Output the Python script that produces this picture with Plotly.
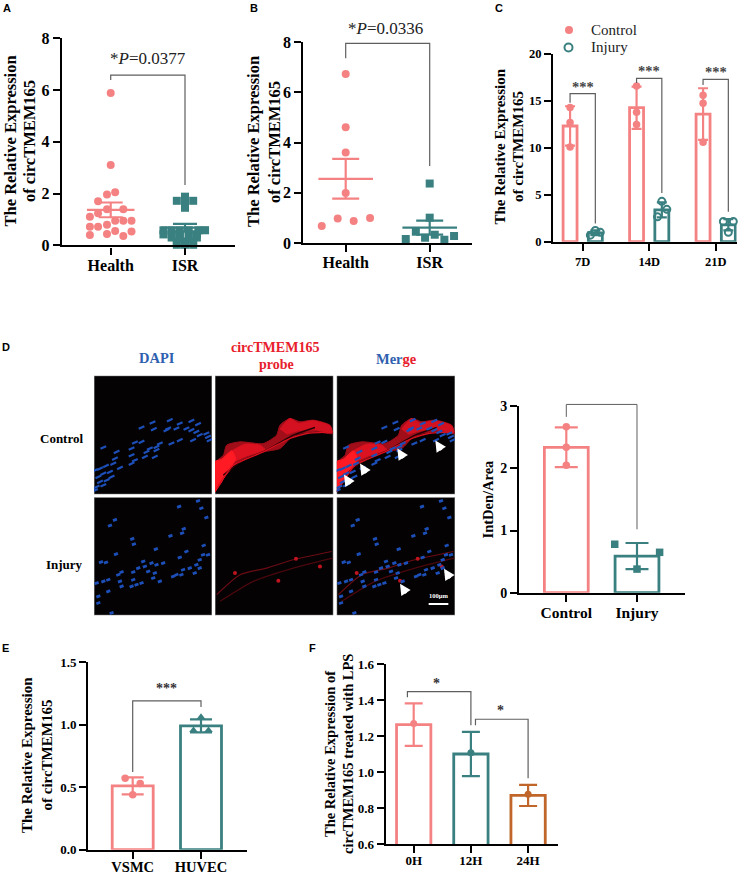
import plotly.graph_objects as go

W, H = 747, 874
PINK, TEAL, ORANGE = "#F58283", "#3A8080", "#C0662A"
BR = "#5f5f5f"
SERIF = "Liberation Serif"
SANS = "Liberation Sans"

# ---------- data ----------
A_categories = ["Health", "ISR"]
A_health = [5.89, 3.1, 2.05, 1.96, 1.7, 1.39, 1.39, 1.24, 1.1, .95, .95, .95, .79, .72, .72, .4, .44, .55, .36, .53]
A_health_dx = [0, 0, .06, -.05, -.17, -.05, .17, -.17, -.28, .06, .17, .28, -.05, -.28, -.17, -.28, -.05, .06, .17, .28]
A_isr = [1.88, 1.72, 1.72, 1.7, 1.45, .58, .58, .58, .58, .58, .58, .42, .42, .42, .42, .42, .3, .3, .3, .3, .15, .15, .15, .02, .02, .02, -.05]
A_isr_dx = [0, -.11, .11, 0, 0, -.29, -.18, -.07, .05, .18, .27, -.29, -.18, -.07, .05, .16, -.18, -.07, .05, .16, -.11, 0, .11, -.11, 0, .11, 0]
A_mean, A_sem = [1.37, .68], [.285, .15]

B_categories = ["Health", "ISR"]
B_health = [6.74, 4.61, 3.61, 1.99, .98, .88, 1.0, .68]
B_health_dx = [0, 0, 0, 0, -.095, .095, .29, -.285]
B_isr = [2.37, 1.01, .45, .21, .33, .16, .13, .28]
B_isr_dx = [0, 0, -.165, -.055, .06, -.285, .175, .29]
B_mean, B_sem = [2.56, .61], [.79, .28]

C_categories = ["7D", "14D", "21D"]
C_control = [12.33, 14.28, 13.6]
C_control_sd = [2.1, 2.25, 2.75]
C_control_pts = [[14.3, 12.7, 10.1], [16.6, 13.8, 12.5], [15.6, 14.75, 10.6]]
C_injury = [.95, 3.4, 1.8]
C_injury_sd = [.25, .8, .6]
C_injury_pts = [[.7, 1.2, 1.0], [4.3, 3.45, 2.65], [2.15, 2.15, 1.0]]
C_injury_dx = [[-.075, 0, .075], [0, .075, -.065], [-.075, .075, 0]]

D_categories = ["Control", "Injury"]
D_means = [2.34, .59]
D_sd = [.32, .21]
D_control_pts = [2.67, 2.34, 2.05]
D_injury_pts = [.78, .65, .38]
D_injury_dx = [-.315, .32, 0]

E_categories = ["VSMC", "HUVEC"]
E_means = [.51, .99]
E_sd = [.068, .052]
E_vsmc_pts = [.57, .53, .44]
E_vsmc_dx = [-.11, .11, 0]
E_huvec_pts = [1.06, .955, .955]
E_huvec_dx = [0, -.11, .11]

F_categories = ["0H", "12H", "24H"]
F_means = [1.263, 1.10, .87]
F_sd = [.118, .123, .059]
F_dots = [1.27, 1.107, .876]

# micrograph sketches (positions inside a 355x355 panel)
DAPI_control = [(176,140),(143,155),(228,133),(223,158),(180,160),(258,143),(248,158),(293,135),(313,145),(218,163),(278,158),(293,163),(308,168),(338,173),(318,178),(343,183),(258,193),(298,193),(348,193),(233,203),(198,203),(188,213),(168,218),(158,228),(188,223),(153,243),(183,243),(143,198),(123,200),(113,218),(113,238),(123,253),(113,263),(68,228),(63,248),(58,263),(78,276),(28,215),(36,270),(18,278),(3,283),(28,293),(48,288),(13,303),(53,303),(38,313),(18,318),(8,333),(3,343),(28,328)]
DAPI_injury = [(313,11),(256,28),(323,33),(338,61),(63,68),(48,85),(270,95),(265,108),(230,116),(115,125),(120,141),(330,145),(186,156),(66,171),(21,195),(36,196),(278,163),(258,181),(328,173),(343,173),(318,188),(308,203),(288,213),(268,218),(248,233),(318,213),(208,198),(188,203),(173,198),(148,193),(153,208),(133,213),(118,225),(183,228),(163,223),(178,243),(198,253),(83,225),(73,233),(78,253),(83,268),(43,248),(28,253),(8,258),(43,283),(118,248),(113,268),(128,263),(143,258),(13,298),(13,318),(53,348),(238,238),(263,233),(303,228)]
PROBE_ctrl_outer = [(0,258),(25,238),(35,208),(75,198),(145,203),(185,178),(195,148),(225,128),(255,138),(295,133),(345,148),(353,173),(305,168),(255,173),(225,188),(195,218),(145,228),(95,248),(55,273),(25,308),(5,338),(0,348)]
PROBE_ctrl_core = [(0,256),(20,250),(50,225),(62,250),(38,285),(20,318),(0,348)]
PROBE_ctrl_mid = [(45,228),(90,205),(135,208),(150,222),(95,240),(55,258)]
PROBE_ctrl_mid2 = [(195,160),(225,128),(250,142),(295,135),(345,150),(350,170),(300,162),(250,165),(215,175)]
PROBE_ctrl_edge = [(5,338),(55,268),(145,228),(225,188),(275,173),(353,168)]
PROBE_ctrl_dark = [(25,298),(75,258),(155,223),(235,178),(300,155)]
PROBE_inj_line1 = [(5,293),(75,233),(155,213),(235,188),(350,163)]
PROBE_inj_line2 = [(15,313),(115,253),(235,213),(353,183)]
PROBE_inj_spots = [(60,228),(243,185),(190,251),(315,208)]
ARROWS_ctrl = [(182,218),(70,263),(22,296),(296,194)]
ARROWS_inj = [(190,260),(322,215)]

# ---------- helpers ----------
fig = go.Figure()
layout = {"shapes": []}
ann = []
n = [0]


def X(p):
    return p / W


def Y(p):
    return 1 - p / H


def new_axes(x0, x1, ytop, ybot, yrange, tickfont=None, cats=None, p0=None, unit=None, xtickfont=None, dtick=None, fmt=None, standoff=0):
    n[0] += 1
    k = n[0]
    xk, yk = f"xaxis{k}", f"yaxis{k}"
    if cats is None:
        layout[xk] = dict(domain=[X(x0), X(x1)], range=[0, 355], anchor=f"y{k}", visible=False, fixedrange=True)
        layout[yk] = dict(domain=[Y(ybot), Y(ytop)], range=[355, 0], anchor=f"x{k}", visible=False, fixedrange=True)
        return f"x{k}", f"y{k}"
    rng = [-(p0 - x0) / unit, (x1 - p0) / unit]
    common = dict(showline=True, linecolor="black", linewidth=2.4, ticks="outside", tickcolor="black",
                  tickwidth=2, ticklen=7, showgrid=False, zeroline=False, fixedrange=True)
    layout[xk] = dict(domain=[X(x0), X(x1)], range=rng, anchor=f"y{k}", tickmode="array",
                      tickvals=list(range(len(cats))), ticktext=cats, ticklabelstandoff=standoff,
                      tickfont=dict(family=SERIF, size=xtickfont or tickfont, color="black", weight="bold"), **common)
    layout[yk] = dict(domain=[Y(ybot), Y(ytop)], range=yrange, anchor=f"x{k}", dtick=dtick, tickformat=fmt,
                      tickfont=dict(family=SERIF, size=tickfont, color="black", weight="bold"), **common)
    return f"x{k}", f"y{k}"


def to_paper(ax, xv, yv):
    xa = layout["xaxis" + ax[0][1:]]
    ya = layout["yaxis" + ax[1][1:]]
    fx = (xv - xa["range"][0]) / (xa["range"][1] - xa["range"][0])
    fy = (yv - ya["range"][0]) / (ya["range"][1] - ya["range"][0])
    return (xa["domain"][0] + fx * (xa["domain"][1] - xa["domain"][0]),
            ya["domain"][0] + fy * (ya["domain"][1] - ya["domain"][0]))


def text(x, y, s, size=13, bold=True, color="black", angle=0, xa="center", family=SERIF, xref="paper", yref="paper"):
    if xref == "paper":
        x, y = X(x), Y(y)
    ann.append(dict(x=x, y=y, xref=xref, yref=yref, text=s, showarrow=False, xanchor=xa, yanchor="middle",
                    textangle=angle, font=dict(family=family, size=size, color=color, weight="bold" if bold else "normal")))


def bracket(ax, xs, ys, width=1.2):
    pts = [to_paper(ax, px, py) for px, py in zip(xs, ys)]
    path = "M " + " L ".join(f"{px:.5f} {py:.5f}" for px, py in pts)
    layout["shapes"].append(dict(type="path", path=path, xref="paper", yref="paper", line=dict(color=BR, width=width), layer="above"))


def points(ax, xs, ys, color, symbol="circle", size=8, name="", lw=0):
    fig.add_trace(go.Scatter(x=xs, y=ys, mode="markers", xaxis=ax[0], yaxis=ax[1], cliponaxis=False,
                             marker=dict(color=color, symbol=symbol, size=size, line=dict(color=color, width=lw)),
                             showlegend=False, name=name))


def err(ax, xs, ys, es, color, cap, thick=2.2):
    fig.add_trace(go.Scatter(x=xs, y=ys, mode="none", xaxis=ax[0], yaxis=ax[1], showlegend=False, cliponaxis=False,
                             error_y=dict(type="data", array=es, color=color, thickness=thick, width=cap)))


def bars(ax, xs, ys, color, width, lw=2.8):
    fig.add_trace(go.Bar(x=xs, y=ys, width=width, xaxis=ax[0], yaxis=ax[1], showlegend=False, cliponaxis=False,
                         marker=dict(color="white", line=dict(color=color, width=lw))))


def mean_line(ax, c, v, half, color, thick=2.2):
    fig.add_trace(go.Scatter(x=[c - half, c + half], y=[v, v], mode="lines", xaxis=ax[0], yaxis=ax[1], showlegend=False,
                             line=dict(color=color, width=thick)))


def add_offset(c, dx):
    return [c + d for d in dx]


def y_title(x1, x2, yc, l1, l2, size):
    text(x1, yc, l1, size=size, angle=-90)
    if l2:
        text(x2, yc, l2, size=size, angle=-90)


TITLE1 = "The Relative Expression"
TITLE2 = "of circTMEM165"

# ---------- A ----------
a = new_axes(62, 235, 38.3, 245.3, [0, 8], 16, cats=A_categories, p0=110.7, unit=74.3, dtick=2, standoff=-3)
bracket(a, [0, 0, 1, 1], [6.39, 6.58, 6.58, 2.33])
points(a, add_offset(0, A_health_dx), A_health, PINK, size=8)
points(a, add_offset(1, A_isr_dx), A_isr, TEAL, "square", 8)
for i, col in enumerate([PINK, TEAL]):
    mean_line(a, i, A_mean[i], .32, col)
    err(a, [i], [A_mean[i]], [A_sem[i]], col, 12)
text(148, 59, "*<i>P</i>=0.0377", 17, False, "#222")
y_title(10.5, 30, 141, TITLE1, TITLE2, 16.5)
text(7, 8, "A", 11, True, family=SANS)

# ---------- B ----------
b = new_axes(303.3, 471.7, 42.3, 243, [0, 8], 16, cats=B_categories, p0=345.7, unit=84, dtick=2, standoff=-3)
bracket(b, [0, 0, 1, 1], [7.36, 7.96, 7.96, 3.07])
points(b, add_offset(0, B_health_dx), B_health, PINK, size=8)
points(b, add_offset(1, B_isr_dx), B_isr, TEAL, "square", 8)
for i, col in enumerate([PINK, TEAL]):
    mean_line(b, i, B_mean[i], .325, col)
    err(b, [i], [B_mean[i]], [B_sem[i]], col, 13.5)
text(385.7, 28.7, "*<i>P</i>=0.0336", 17, False, "#222")
y_title(253, 274, 142, TITLE1, TITLE2, 16.5)
text(254, 8, "B", 11, True, family=SANS)

# ---------- C ----------
c = new_axes(553.3, 736.7, 54, 241.7, [0, 20], 12.5, cats=C_categories, p0=582.7, unit=66.5, dtick=5)
off = .19
bw = .21
bars(c, [i - off for i in range(3)], C_control, PINK, bw)
bars(c, [i + off for i in range(3)], C_injury, TEAL, bw)
err(c, [i - off for i in range(3)], C_control, C_control_sd, PINK, 5)
err(c, [i + off for i in range(3)], C_injury, C_injury_sd, TEAL, 5)
cx, cy, ix, iy = [], [], [], []
for i in range(3):
    cx += [i - off] * 3
    cy += C_control_pts[i]
    ix += [i + off + d for d in C_injury_dx[i]]
    iy += C_injury_pts[i]
points(c, cx, cy, PINK, size=7.5, name="Control")
points(c, ix, iy, TEAL, "circle-open", size=7, name="Injury", lw=2)
for i, (top, left, right) in enumerate([(15.77, 14.8, 1.95), (17.4, 16.9, 5.2), (17.3, 16.7, 3.2)]):
    bracket(c, [i - off, i - off, i + off, i + off], [left, top, top, right])
    text(i, top + .75, "***", 14.5, True, "#444", xref=c[0], yref=c[1])
y_title(499.5, 518, 147, TITLE1, TITLE2, 15)
text(499, 8, "C", 11, True, family=SANS)
# key of panel C
layout["shapes"].append(dict(type="circle", xref="paper", yref="paper", x0=X(565), x1=X(573), y0=Y(34), y1=Y(26),
                             fillcolor=PINK, line=dict(color=PINK, width=0)))
layout["shapes"].append(dict(type="circle", xref="paper", yref="paper", x0=X(564.5), x1=X(572.5), y0=Y(51.5), y1=Y(43.5),
                             fillcolor="white", line=dict(color=TEAL, width=2)))
text(589, 30, "Control", 15, False, "#222", xa="left")
text(589, 47, "Injury", 15, False, "#222", xa="left")

# ---------- D micrographs ----------
COLS = [(94, 212), (215, 333.3), (336.7, 455)]
ROWS = [(375.7, 494.3), (497.3, 615.3)]
BLUE = "#1d4fb8"
panels = {}
for r, (yt, yb) in enumerate(ROWS):
    for q, (xl, xr) in enumerate(COLS):
        ax = new_axes(xl, xr, yt, yb, None)
        panels[(r, q)] = ax
        layout["shapes"].append(dict(type="rect", xref=ax[0], yref=ax[1], x0=0, x1=355, y0=0, y1=355,
                                     fillcolor="#050203", line=dict(color="#999", width=1), layer="below"))


def poly(ax, pts, color, fill=True, w=1):
    xs = [p[0] for p in pts]
    ys = [p[1] for p in pts]
    fig.add_trace(go.Scatter(x=xs, y=ys, mode="lines", fill="toself" if fill else None, fillcolor=color,
                             line=dict(color=color, width=w, shape="spline", smoothing=.6), xaxis=ax[0], yaxis=ax[1], showlegend=False))


def blue(ax, pts, streak):
    xs = [p[0] for p in pts]
    ys = [p[1] for p in pts]
    if streak:
        marker = dict(symbol="line-ew", size=4.5, angle=-25, line=dict(color=BLUE, width=2.2))
    else:
        marker = dict(symbol="line-ew", size=3, angle=-20, line=dict(color=BLUE, width=2.8))
    fig.add_trace(go.Scatter(x=xs, y=ys, mode="markers", marker=marker, xaxis=ax[0], yaxis=ax[1], showlegend=False))


def probe_ctrl(ax):
    poly(ax, PROBE_ctrl_outer, "#a00e1a")
    poly(ax, PROBE_ctrl_mid, "#dc1220")
    poly(ax, PROBE_ctrl_mid2, "#d41120")
    poly(ax, PROBE_ctrl_core, "#ff1a24")
    poly(ax, PROBE_ctrl_dark, "#220204", fill=False, w=1.5)
    poly(ax, PROBE_ctrl_edge, "#d8101f", fill=False, w=1.3)


def probe_inj(ax):
    poly(ax, PROBE_inj_line1, "#6b0c14", fill=False, w=1.2)
    poly(ax, PROBE_inj_line2, "#4a080e", fill=False, w=1.2)
    xs = [p[0] for p in PROBE_inj_spots]
    ys = [p[1] for p in PROBE_inj_spots]
    fig.add_trace(go.Scatter(x=xs, y=ys, mode="markers", marker=dict(color="#c0141f", size=4), xaxis=ax[0], yaxis=ax[1], showlegend=False))


blue(panels[(0, 0)], DAPI_control, True)
blue(panels[(1, 0)], DAPI_injury, False)
probe_ctrl(panels[(0, 1)])
probe_inj(panels[(1, 1)])
probe_ctrl(panels[(0, 2)])
blue(panels[(0, 2)], DAPI_control, True)
probe_inj(panels[(1, 2)])
blue(panels[(1, 2)], DAPI_injury, False)
for key, tips in [((0, 2), ARROWS_ctrl), ((1, 2), ARROWS_inj)]:
    ax = panels[key]
    for t in tips:
        ann.append(dict(x=t[0], y=t[1], xref=ax[0], yref=ax[1], ax=7, ay=11, showarrow=True, arrowhead=2, arrowsize=.85,
                        arrowwidth=2.6, arrowcolor="white", text=""))
sb = panels[(1, 2)]
fig.add_trace(go.Scatter(x=[276, 335], y=[321, 321], mode="lines", line=dict(color="white", width=2), xaxis=sb[0], yaxis=sb[1], showlegend=False))
text(304, 294, "100μm", 6.5, True, "white", xref=sb[0], yref=sb[1])

text(157, 358, "DAPI", 14.5, True, "#2f5fb0")
text(275, 347, "circTMEM165", 14, True, "#e8202c")
text(276, 364, "probe", 14, True, "#e8202c")
text(396, 359, '<span style="color:#2f5fb0">Mer</span><span style="color:#e8202c">ge</span>', 14.5, True)
text(85, 438, "Control", 13, True, xa="right")
text(85, 564, "Injury", 13, True, xa="right")
text(6, 347, "D", 11, True, family=SANS)

# ---------- D bars ----------
d = new_axes(519.3, 685, 406.3, 592.7, [0, 3], 14, cats=D_categories, p0=566.3, unit=70.7, xtickfont=15.5, dtick=1, standoff=-3)
bars(d, [0], [D_means[0]], PINK, .62)
bars(d, [1], [D_means[1]], TEAL, .62)
err(d, [0], [D_means[0]], [D_sd[0]], PINK, 11.5)
err(d, [1], [D_means[1]], [D_sd[1]], TEAL, 11.5)
points(d, [0, 0, 0], D_control_pts, PINK, size=7.5)
points(d, add_offset(1, D_injury_dx), D_injury_pts, TEAL, "square", 7.5)
bracket(d, [0, 0, 1, 1], [2.83, 3.03, 3.03, 1.02], 1)
text(.49, 3.2, "**", 14, True, "#222", xref=d[0], yref=d[1])
text(487.5, 499, "IntDen/Area", 14.5, True, angle=-90)

# ---------- E ----------
e = new_axes(88.3, 246.7, 662, 849.7, [0, 1.5], 13, cats=E_categories, p0=132.7, unit=68.3, xtickfont=14.5, dtick=.5, fmt=".1f", standoff=-4)
bars(e, [0], [E_means[0]], PINK, .6)
bars(e, [1], [E_means[1]], TEAL, .6)
err(e, [0], [E_means[0]], [E_sd[0]], PINK, 11)
err(e, [1], [E_means[1]], [E_sd[1]], TEAL, 11)
points(e, add_offset(0, E_vsmc_dx), E_vsmc_pts, PINK, size=7.5)
points(e, add_offset(1, E_huvec_dx), E_huvec_pts, TEAL, "triangle-up", 7.5)
bracket(e, [0, 0, 1, 1], [.62, 1.19, 1.19, 1.14])
text(.49, 1.285, "***", 14, True, "#333", xref=e[0], yref=e[1])
y_title(27, 46.5, 755, TITLE1, TITLE2, 15)
text(6, 648, "E", 11, True, family=SANS)

# ---------- F ----------
f = new_axes(385.7, 558, 664, 844, [.6, 1.6], 13, cats=F_categories, p0=413.7, unit=57.2, dtick=.2, fmt=".1f", standoff=-4)
for i, col in enumerate([PINK, TEAL, ORANGE]):
    bars(f, [i], [F_means[i]], col, .6)
    err(f, [i], [F_means[i]], [F_sd[i]], col, 9)
    points(f, [i], [F_dots[i]], col, size=7)
bracket(f, [-.11, -.11, 1, 1], [1.415, 1.446, 1.446, 1.26])
bracket(f, [1.08, 1.08, 2, 2], [1.26, 1.293, 1.293, .965])
text(.4, 1.49, "*", 14, True, "#333", xref=f[0], yref=f[1])
text(1.52, 1.34, "*", 14, True, "#333", xref=f[0], yref=f[1])
y_title(330, 348, 754, "The Relative Expression of", "circTMEM165 treated with LPS", 14.5)
text(312, 648, "F", 11, True, family=SANS)

fig.update_layout(
    width=W, height=H, margin=dict(l=0, r=0, t=0, b=0, autoexpand=False), paper_bgcolor="white", plot_bgcolor="rgba(0,0,0,0)",
    barmode="overlay", hovermode=False, annotations=ann, showlegend=False,
    **layout,
)
fig.write_html("out.html", config={"displayModeBar": False}, post_script="document.body.style.margin='0';")
